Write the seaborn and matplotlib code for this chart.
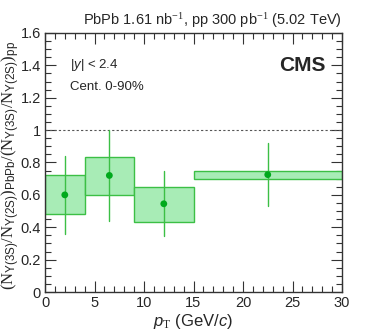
import numpy as np
import pandas as pd
import matplotlib
matplotlib.use("Agg")
import matplotlib.pyplot as plt
import seaborn as sns
from matplotlib.patches import Rectangle
from matplotlib.ticker import MultipleLocator

# Data
bin_lo = [0, 4, 9, 15]
bin_hi = [4, 9, 15, 30]
pt = [2, 6.5, 12, 22.5]
ratio = [0.60, 0.72, 0.545, 0.725]
stat_lo = [0.36, 0.44, 0.345, 0.53]
stat_hi = [0.84, 1.00, 0.745, 0.92]
syst_lo = [0.48, 0.60, 0.435, 0.70]
syst_hi = [0.72, 0.835, 0.65, 0.75]

df = pd.DataFrame({"pt": pt, "ratio": ratio})

sns.set_style("ticks")
plt.rcParams['font.family'] = ['Liberation Sans', 'DejaVu Sans']
plt.rcParams['mathtext.fontset'] = 'custom'
plt.rcParams['mathtext.rm'] = 'Liberation Serif'
plt.rcParams['mathtext.sf'] = 'Liberation Sans'
plt.rcParams['mathtext.it'] = 'Liberation Sans:italic'

fig = plt.figure(figsize=(3.8, 3.32), dpi=100)
ax = fig.add_axes([45/380, 1 - 292/332, (342-45)/380, (292-33)/332])

for lo, hi, slo, shi in zip(bin_lo, bin_hi, syst_lo, syst_hi):
    ax.add_patch(Rectangle((lo, slo), hi - lo, shi - slo, facecolor='#a8ecb6',
                           edgecolor='#3cbf45', lw=1.0, zorder=2))
for x, y, lo, hi in zip(pt, ratio, stat_lo, stat_hi):
    ax.plot([x, x], [lo, hi], color='#3cbf45', lw=1.0, zorder=3)

sns.scatterplot(data=df, x="pt", y="ratio", ax=ax, color='#00a91c', s=24,
                marker='o', edgecolor='none', zorder=4)

ax.axhline(1.0, color='#555555', lw=0.8, ls=(0, (2, 2)), zorder=1)

ax.set_xlim(0, 30)
ax.set_ylim(0, 1.6)
ax.xaxis.set_major_locator(MultipleLocator(5))
ax.xaxis.set_minor_locator(MultipleLocator(1))
ax.yaxis.set_major_locator(MultipleLocator(0.2))
ax.yaxis.set_minor_locator(MultipleLocator(0.05))
ax.set_xticks([0, 5, 10, 15, 20, 25, 30])
ax.set_xticklabels(['0', '5', '10', '15', '20', '25', '30'])
ax.set_yticks([0, 0.2, 0.4, 0.6, 0.8, 1.0, 1.2, 1.4, 1.6])
ax.set_yticklabels(['0', '0.2', '0.4', '0.6', '0.8', '1', '1.2', '1.4', '1.6'])
ax.tick_params(which='both', direction='in', top=True, right=True, labelsize=10.5,
               color='#333333', pad=3)
ax.tick_params(which='major', length=8, width=0.8)
ax.tick_params(which='minor', length=4, width=0.8)
for s in ax.spines.values():
    s.set_linewidth(1.0)
    s.set_color('#333333')

ax.set_xlabel(r'$p_{\mathrm{T}}$ (GeV/$c$)', fontsize=12, labelpad=1)
ylab = (r'$(\mathrm{N}_{\mathsf{\Upsilon(3S)}}/\mathrm{N}_{\mathsf{\Upsilon(2S)}})_{\mathsf{PbPb}}'
        r'/(\mathrm{N}_{\mathsf{\Upsilon(3S)}}/\mathrm{N}_{\mathsf{\Upsilon(2S)}})_{\mathsf{pp}}$')
ax.set_ylabel(ylab, fontsize=12, labelpad=2)
ax.yaxis.label.set_verticalalignment('center')
ax.yaxis.set_label_coords(-0.115, 0.49)

ax.text(1.0, 1.012, r'PbPb 1.61 nb$^{-1}$, pp 300 pb$^{-1}$ (5.02 TeV)', transform=ax.transAxes,
        ha='right', va='bottom', fontsize=10.5)
ax.text(0.945, 0.876, 'CMS', transform=ax.transAxes, ha='right', va='center',
        fontsize=15, fontweight='bold')
ax.text(0.084, 0.876, r'|$y$| < 2.4', transform=ax.transAxes, ha='left', va='center', fontsize=9.5)
ax.text(0.084, 0.79, 'Cent. 0-90%', transform=ax.transAxes, ha='left', va='center', fontsize=9.5)

fig.savefig('out.png', dpi=100)
